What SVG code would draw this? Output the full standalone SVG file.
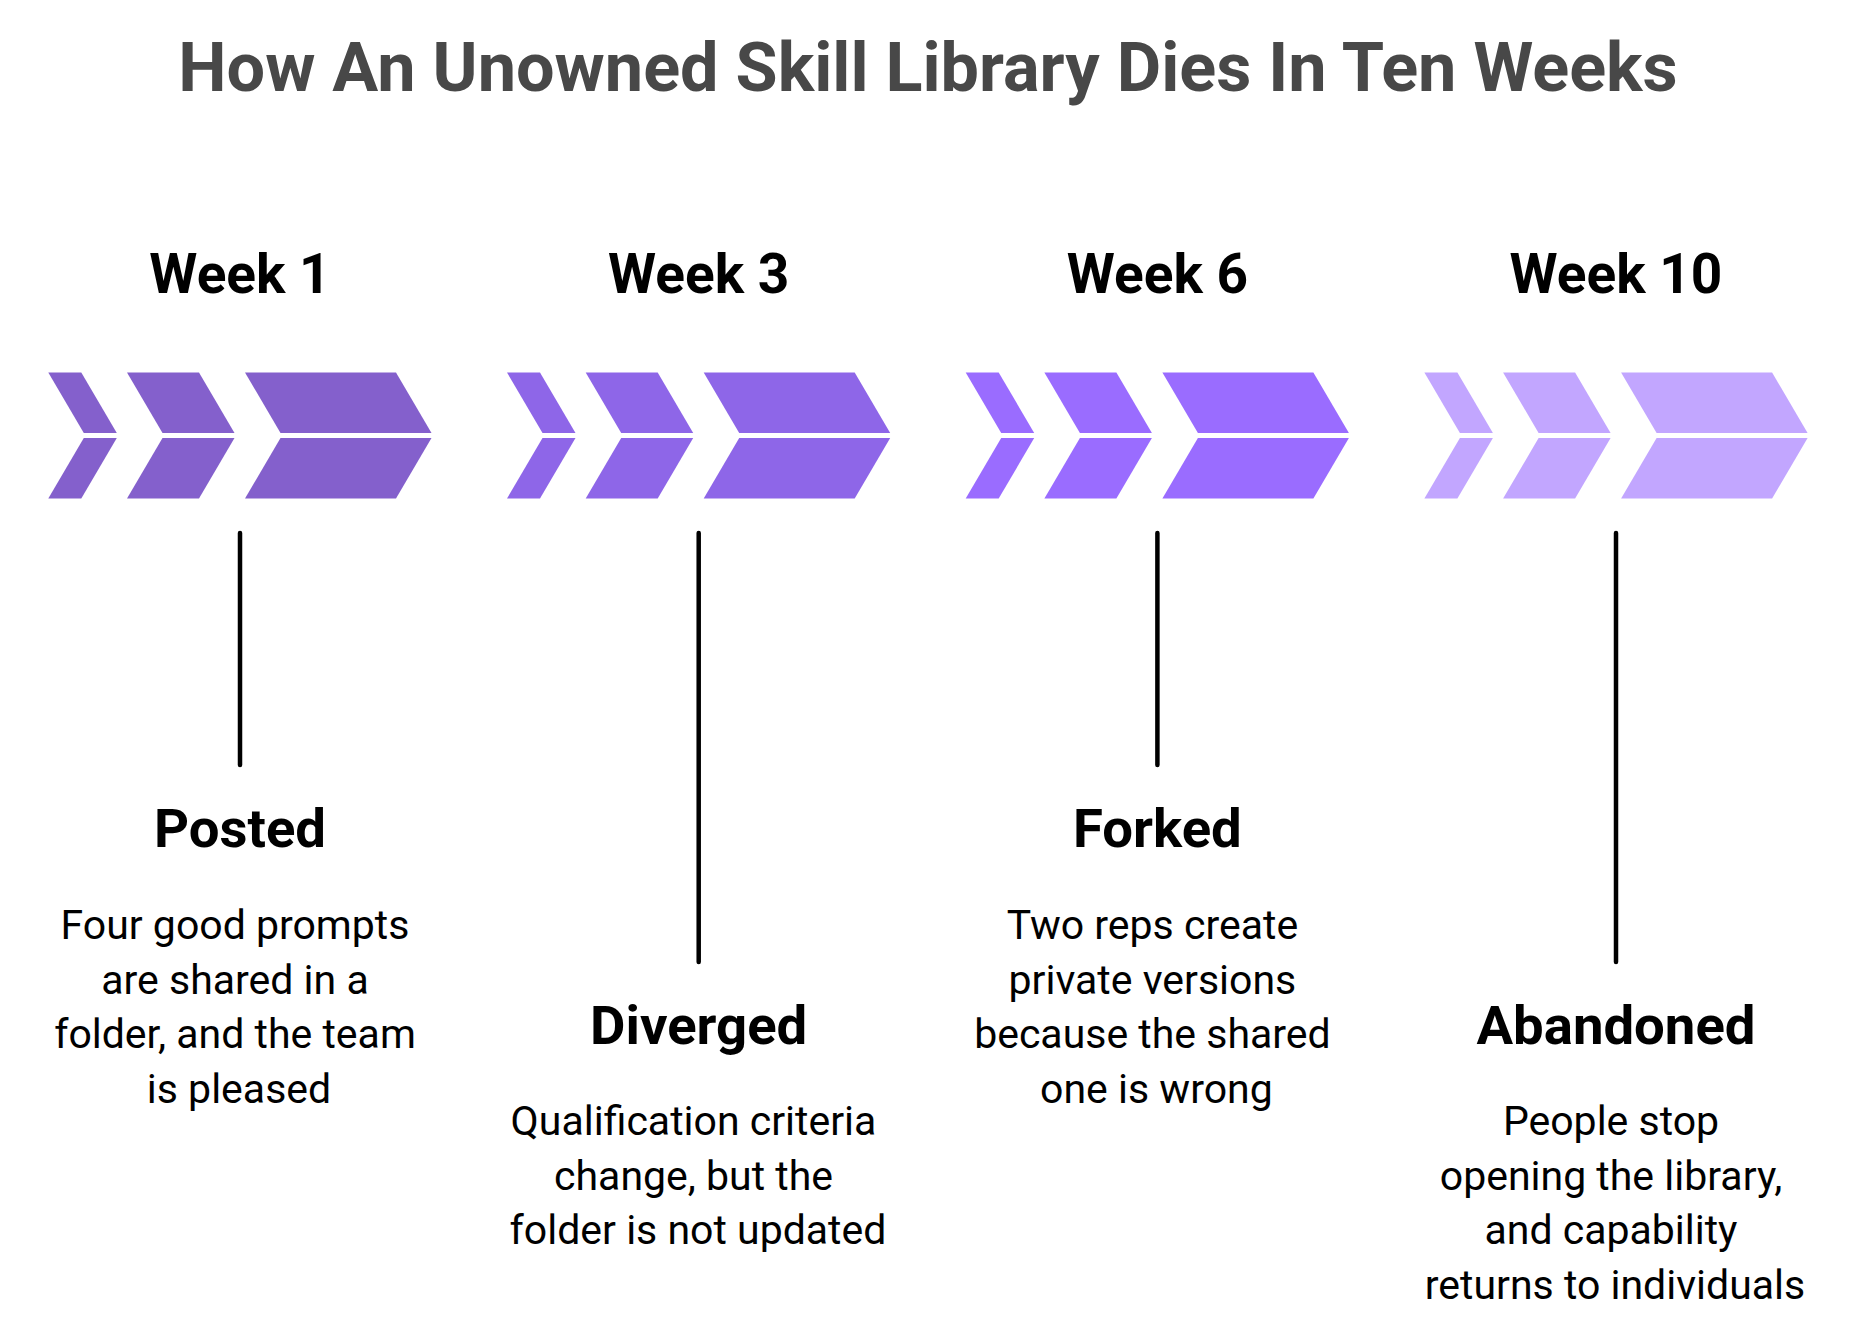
<svg xmlns="http://www.w3.org/2000/svg" xmlns:xlink="http://www.w3.org/1999/xlink" width="1856" height="1340" viewBox="0 0 1856 1340">
<style>
.title{font-family:Roboto,"Liberation Sans",sans-serif;font-weight:700;font-size:68.4px;fill:#484848;text-anchor:middle}
.week{font-family:Roboto,"Liberation Sans",sans-serif;font-weight:700;font-size:55px;fill:#000;text-anchor:middle}
.head{font-family:Roboto,"Liberation Sans",sans-serif;font-weight:700;font-size:54.5px;fill:#000;text-anchor:middle}
.body{font-family:Roboto,"Liberation Sans",sans-serif;font-weight:400;font-size:41px;fill:#000;text-anchor:middle}
.conn{stroke:#000;stroke-width:4.5;stroke-linecap:round;fill:none}
.c1{fill:#8460CC}.c2{fill:#8E66E8}.c3{fill:#9A6CFF}.c4{fill:#C2A6FF}
</style>
<defs>
<g id="chev">
<polygon points="0,372.5 33,372.5 68.5,432.9 35.5,432.9"/>
<polygon points="35.5,438.1 68.5,438.1 33,498.5 0,498.5"/>
<polygon points="78.7,372.5 150.7,372.5 186.2,432.9 114.2,432.9"/>
<polygon points="114.2,438.1 186.2,438.1 150.7,498.5 78.7,498.5"/>
<polygon points="196.7,372.5 347.7,372.5 383.2,432.9 232.2,432.9"/>
<polygon points="232.2,438.1 383.2,438.1 347.7,498.5 196.7,498.5"/>
</g>
</defs>
<rect width="1856" height="1340" fill="#fff"/>
<text class="title" x="928" y="91">How An Unowned Skill Library Dies In Ten Weeks</text>
<g id="connectors">
<line class="conn" x1="240" y1="533" x2="240" y2="765"/>
<line class="conn" x1="698.7" y1="533" x2="698.7" y2="962"/>
<line class="conn" x1="1157.4" y1="533" x2="1157.4" y2="765"/>
<line class="conn" x1="1616" y1="533" x2="1616" y2="962"/>
</g>
<g id="week1">
<text class="week" x="240" y="293">Week 1</text>
<use xlink:href="#chev" class="c1" transform="translate(48.3,0)"/>
<text class="head" x="240" y="847">Posted</text>
<text class="body" x="235" y="939">Four good prompts</text>
<text class="body" x="235" y="993.5">are shared in a</text>
<text class="body" x="235" y="1048">folder, and the team</text>
<text class="body" x="239" y="1102.5">is pleased</text>
</g>
<g id="week3">
<text class="week" x="698.7" y="293">Week 3</text>
<use xlink:href="#chev" class="c2" transform="translate(507,0)"/>
<text class="head" x="698.7" y="1044">Diverged</text>
<text class="body" x="693.5" y="1135">Qualification criteria</text>
<text class="body" x="693.5" y="1189.5">change, but the</text>
<text class="body" x="698" y="1244">folder is not updated</text>
</g>
<g id="week6">
<text class="week" x="1157.4" y="293">Week 6</text>
<use xlink:href="#chev" class="c3" transform="translate(965.7,0)"/>
<text class="head" x="1157.4" y="847">Forked</text>
<text class="body" x="1152.4" y="939">Two reps create</text>
<text class="body" x="1152.4" y="993.5">private versions</text>
<text class="body" x="1152.4" y="1048">because the shared</text>
<text class="body" x="1156.4" y="1102.5">one is wrong</text>
</g>
<g id="week10">
<text class="week" x="1616" y="293">Week 10</text>
<use xlink:href="#chev" class="c4" transform="translate(1424.4,0)"/>
<text class="head" x="1616" y="1044">Abandoned</text>
<text class="body" x="1611" y="1135">People stop</text>
<text class="body" x="1611" y="1189.5">opening the library,</text>
<text class="body" x="1611" y="1244">and capability</text>
<text class="body" x="1615" y="1298.5">returns to individuals</text>
</g>
</svg>
